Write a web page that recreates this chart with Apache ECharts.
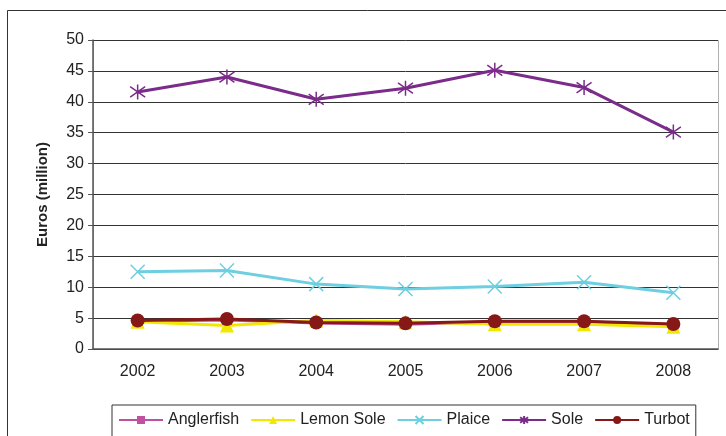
<!DOCTYPE html>
<html>
<head>
<meta charset="utf-8">
<script src="https://cdn.jsdelivr.net/npm/echarts@6/dist/echarts.min.js"></script>
<style>
  html, body { margin: 0; padding: 0; background: #fff; }
  #chart { width: 726px; height: 436px; }
</style>
</head>
<body>
<div id="chart"></div>
<script>
// 数据
const years = ['2002', '2003', '2004', '2005', '2006', '2007', '2008'];
const yTicks = [0, 5, 10, 15, 20, 25, 30, 35, 40, 45, 50];
const anglerfish = [4.5, 4.7, 4.2, 4.0, 4.4, 4.4, 3.9];
const lemonSole = [4.4, 3.8, 4.6, 4.4, 4.0, 4.0, 3.6];
const plaice = [12.5, 12.7, 10.5, 9.7, 10.1, 10.8, 9.1];
const sole = [41.6, 44.0, 40.4, 42.2, 45.1, 42.3, 35.1];
const turbot = [4.6, 4.85, 4.3, 4.15, 4.5, 4.5, 4.05];

const font = 'Liberation Sans, Arial, sans-serif';

// 线条标记（X 和星号）
const crossPath = 'path://M0,0L10,10M10,0L0,10';
const starPath = 'path://M5,0L5,10M0,1.5L10,8.5M10,1.5L0,8.5';

function makeSeries(name, data, color, symbol, size, stroked) {
  return {
    name: name,
    type: 'line',
    data: data,
    symbol: symbol,
    symbolSize: size,
    lineStyle: { color: color, width: 3 },
    itemStyle: stroked
      ? { color: 'rgba(0,0,0,0)', borderColor: color, borderWidth: 1.5 }
      : { color: color, borderWidth: 0 },
    emphasis: { disabled: true },
    animation: false
  };
}

const chart = echarts.init(document.getElementById('chart'));
chart.setOption({
  animation: false,
  textStyle: { fontFamily: font },
  graphic: [
    {
      type: 'rect',
      shape: { x: 7.5, y: 10.5, width: 800, height: 500 },
      style: { fill: 'none', stroke: '#333', lineWidth: 1 },
      silent: true
    },
    {
      type: 'rect',
      shape: { x: 93.5, y: 40.5, width: 625, height: 309 },
      style: { fill: 'none', stroke: '#b0b0b0', lineWidth: 1 },
      silent: true,
      z: -1
    }
  ],
  grid: { left: 93, top: 40, right: 8, bottom: 87 },
  legend: {
    left: 112,
    top: 405,
    padding: [7, 6, 14, 6],
    borderColor: '#333',
    borderWidth: 1,
    itemWidth: 44,
    itemHeight: 10,
    itemGap: 11,
    textStyle: { fontFamily: font, fontSize: 16, color: '#222' },
    data: ['Anglerfish', 'Lemon Sole', 'Plaice', 'Sole', 'Turbot']
  },
  xAxis: {
    type: 'category',
    data: years,
    boundaryGap: true,
    axisLine: { lineStyle: { color: '#555', width: 1.5 } },
    axisTick: { length: 5, lineStyle: { color: '#555' } },
    axisLabel: { fontSize: 16, color: '#222', margin: 15 }
  },
  yAxis: {
    type: 'value',
    min: yTicks[0],
    max: yTicks[yTicks.length - 1],
    interval: 5,
    name: 'Euros (million)',
    nameLocation: 'middle',
    nameGap: 43,
    nameTextStyle: { fontSize: 15, fontWeight: 'bold', color: '#222' },
    axisLine: { show: true, lineStyle: { color: '#555', width: 1.5 } },
    axisTick: { show: true, length: 5, lineStyle: { color: '#555' } },
    axisLabel: { fontSize: 16, color: '#222', margin: 9 },
    splitLine: { lineStyle: { color: '#333', width: 1 } }
  },
  series: [
    makeSeries('Anglerfish', anglerfish, '#c050a0', 'rect', 10, false),
    makeSeries('Lemon Sole', lemonSole, '#f0e800', 'triangle', 14, false),
    makeSeries('Plaice', plaice, '#6dcfe0', crossPath, 14, true),
    makeSeries('Sole', sole, '#7b2c8a', starPath, 15, true),
    makeSeries('Turbot', turbot, '#861818', 'circle', 14, false)
  ]
});
</script>
</body>
</html>
